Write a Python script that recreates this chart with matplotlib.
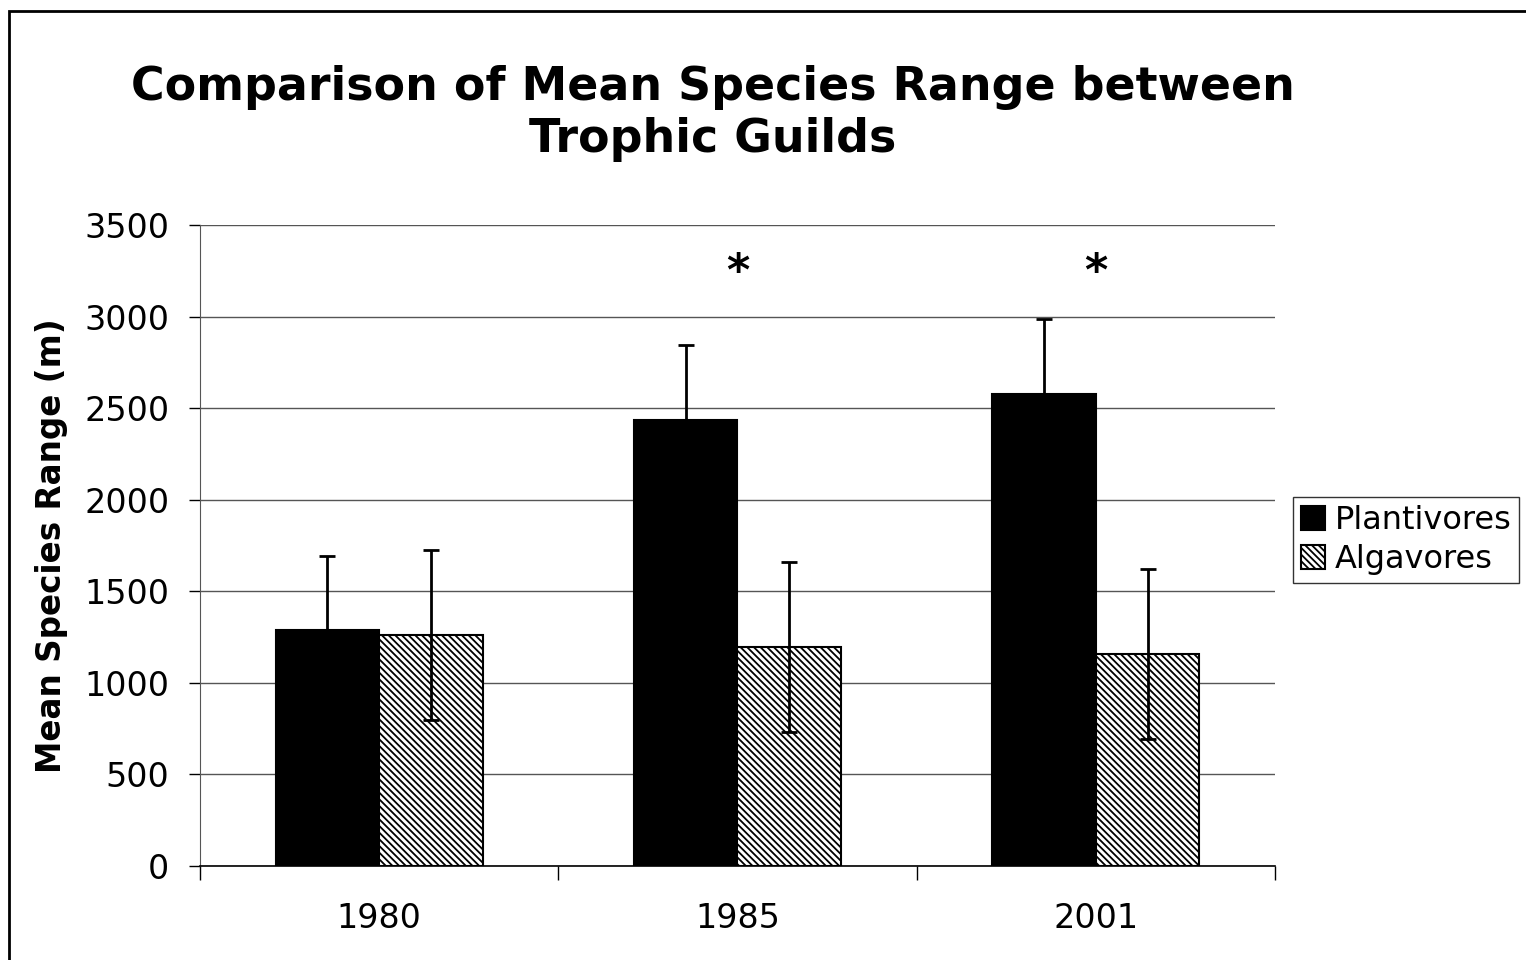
import matplotlib.pyplot as plt
import numpy as np
from matplotlib.patches import Rectangle

# Daten
years = ["1980", "1985", "2001"]
plantivores = [1290, 2435, 2577]
plantivores_err = [400, 410, 410]
algavores = [1260, 1196, 1158]
algavores_err = [465, 465, 465]
significant = [False, True, True]
star_level = 3240

plt.rcParams['hatch.linewidth'] = 1.3
plt.rcParams['font.family'] = ['DejaVu Sans']

fig = plt.figure(figsize=(15.26, 9.6), dpi=100)
ax = fig.add_axes([200 / 1526, 1 - 866 / 960, (1275 - 200) / 1526, (866 - 225) / 960])

x = np.arange(len(years))
w = 0.289

ax.bar(x - w / 2, plantivores, w, color='black', edgecolor='black', linewidth=1.5,
       label='Plantivores', zorder=2)
ax.bar(x + w / 2, algavores, w, color='white', edgecolor='black', linewidth=1.5,
       hatch='\\\\\\\\\\', label='Algavores', zorder=2)
ax.errorbar(x - w / 2, plantivores, yerr=plantivores_err, fmt='none', ecolor='black',
            elinewidth=2, capsize=6, capthick=2, zorder=3)
ax.errorbar(x + w / 2, algavores, yerr=algavores_err, fmt='none', ecolor='black',
            elinewidth=2, capsize=6, capthick=2, zorder=3)

# Sternchen für signifikante Unterschiede
for i, sig in enumerate(significant):
    if sig:
        ax.text(x[i], star_level, '*', ha='center', va='center', fontsize=32,
                fontweight='bold')

ax.set_xlim(-0.5, len(years) - 0.5)
ax.set_ylim(0, 3500)
ax.set_yticks(np.arange(0, 3501, 500))
ax.set_xticks(x)
ax.set_xticklabels(years)
ax.set_xticks(np.arange(-0.5, len(years), 1), minor=True)
ax.tick_params(axis='x', which='major', length=0, pad=26, labelsize=24)
ax.tick_params(axis='x', which='minor', length=10, width=1)
ax.tick_params(axis='y', length=8, width=1, labelsize=24, pad=14)

ax.yaxis.grid(True, color='#555555', linewidth=1)
ax.set_axisbelow(True)
for s in ['top', 'right']:
    ax.spines[s].set_visible(False)
ax.spines['left'].set_linewidth(0.8)
ax.spines['left'].set_color('#555555')
ax.spines['bottom'].set_linewidth(1.2)

ax.set_ylabel('Mean Species Range (m)', fontsize=23.5, fontweight='bold', labelpad=12)

fig.text(713 / 1526, 1 - 113 / 960, 'Comparison of Mean Species Range between\nTrophic Guilds',
         ha='center', va='center', fontsize=33, fontweight='bold', linespacing=1.2)

leg = fig.legend(loc='center left', bbox_to_anchor=(1293 / 1526, 1 - 540 / 960),
                 fontsize=23, frameon=True, fancybox=False, edgecolor='black',
                 handlelength=0.75, handleheight=0.75, handletextpad=0.3,
                 borderpad=0.25, labelspacing=0.25, borderaxespad=0)
leg.get_frame().set_linewidth(1)

# Rahmen um die ganze Grafik
fig.patches.append(Rectangle((9 / 1526, -0.1), 1.2, 1.1 - 11 / 960, transform=fig.transFigure,
                             fill=False, edgecolor='black', linewidth=2))

fig.savefig('out.png', dpi=100)
